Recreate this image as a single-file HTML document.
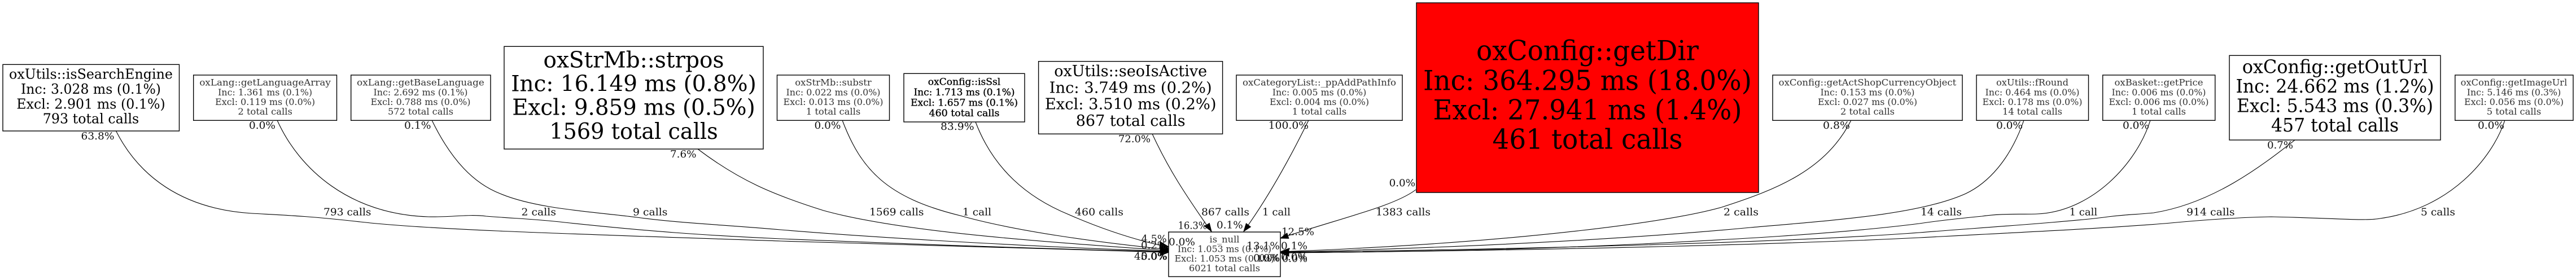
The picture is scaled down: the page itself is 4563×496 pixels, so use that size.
<!DOCTYPE html>
<html><head><meta charset="utf-8"><style>
html,body{margin:0;padding:0;background:#fff}
svg{display:block}
text{font-family:"DejaVu Serif","Liberation Serif",serif;fill:#000;text-anchor:middle}
.l{text-anchor:start;font-size:18px;fill:#111}
.n{fill:#fff;stroke:#000;stroke-width:1.4}
.e{fill:none;stroke:#000;stroke-width:1.1}
.s text{font-size:16px;fill:#333}
.b text{stroke:#000;stroke-width:.35}
</style></head><body>
<svg width="4563" height="496" viewBox="0 0 4563 496" xmlns="http://www.w3.org/2000/svg">
<rect width="4563" height="496" fill="#fff"/>
<!-- edges -->
<path class="e" d="M205.5 232C245 310 320 370 446 378C500 381 540 382 638 393C760 407 1000 414 1383 427C1700 436 1900 443 2070 447"/>
<path class="e" d="M491 213C530 300 620 380 759 384C800 385 830 379 861 383C910 387 950 388 1000 394C1150 410 1250 417 1383 423C1700 436 1900 442 2070 446"/>
<path class="e" d="M765 213C800 285 840 325 886 343C950 370 1050 375 1128 385C1200 395 1280 398 1383 407C1600 425 1900 440 2070 445"/>
<path class="e" d="M1236 264C1310 320 1370 345 1459 373C1600 412 1850 428 2070 444"/>
<path class="e" d="M1492 213C1525 300 1570 350 1701 382C1800 410 1950 430 2070 442"/>
<path class="e" d="M1728 216C1760 300 1820 350 1893 380C1950 405 2010 425 2070 438"/>
<path class="e" d="M2041 237C2070 300 2100 345 2146 411"/>
<path class="e" d="M2318 213C2290 270 2250 345 2203 410"/>
<path class="e" d="M2508 336C2470 365 2380 385 2268 422"/>
<path class="e" d="M3279 213C3235 300 3150 335 3050 367C2950 395 2700 425 2400 440C2350 443 2310 444 2268 446"/>
<path class="e" d="M3585 213C3560 285 3520 325 3482 343C3400 380 3250 390 3101 403C2900 422 2650 435 2400 443C2350 445 2310 446 2268 446"/>
<path class="e" d="M3809 213C3785 290 3705 375 3608 379C3570 380 3545 378 3511 383C3480 386 3440 390 3400 396C3250 415 3050 425 2910 432C2700 442 2500 446 2268 448"/>
<path class="e" d="M4065 248C4005 295 3920 360 3815 377C3785 380 3765 380 3734 384C3680 392 3500 404 3400 412C3200 427 2800 440 2268 447"/>
<path class="e" d="M4437 213C4415 280 4340 370 4216 387C4190 392 4130 386 4023 384C3970 385 3920 388 3845 395C3750 403 3650 408 3400 421C3200 431 2800 443 2268 448"/>
<!-- arrowheads -->
<g fill="#000" stroke="#000" stroke-width="1">
<polygon points="2146,410 2142.3,395.4 2133.7,400.7"/>
<polygon points="2203,410 2215.4,401.8 2207.4,395.8"/>
<polygon points="2268,422 2282.8,422.4 2279.8,413"/>
<polygon points="2070,437 2055,428 2054,440"/>
<polygon points="2070,440 2055,431 2055,444"/>
<polygon points="2070,442 2055,434 2055,447"/>
<polygon points="2070,444 2055,437 2055,449"/>
<polygon points="2070,446 2055,439 2055,451"/>
<polygon points="2070,447 2055,441 2055,453"/>
<polygon points="2268,446 2283,440 2283,452"/>
<polygon points="2268,447 2283,441 2283,453"/>
<polygon points="2268,448 2283,442 2283,454"/>
</g>
<!-- is_null drawn before its overlapping labels -->
<rect class="n" x="2070" y="411" width="198" height="79"/>
<g class="s" font-size="16">
<text x="2169" y="429.3" textLength="53" lengthAdjust="spacingAndGlyphs">is_null</text>
<text x="2169" y="446.7" textLength="166" lengthAdjust="spacingAndGlyphs">Inc: 1.053 ms (0.1%)</text>
<text x="2169" y="463.3" textLength="177" lengthAdjust="spacingAndGlyphs">Excl: 1.053 ms (0.1%)</text>
<text x="2169" y="480.7" textLength="126" lengthAdjust="spacingAndGlyphs">6021 total calls</text>
</g>
<!-- nodes -->
<rect class="n" x="5" y="114.3" width="312.5" height="117.7"/>
<g font-size="24.5">
<text x="161" y="139.5" textLength="290" lengthAdjust="spacingAndGlyphs">oxUtils::isSearchEngine</text>
<text x="161" y="166" textLength="248" lengthAdjust="spacingAndGlyphs">Inc: 3.028 ms (0.1%)</text>
<text x="161" y="192.5" textLength="263.5" lengthAdjust="spacingAndGlyphs">Excl: 2.901 ms (0.1%)</text>
<text x="161" y="218.5" textLength="170.5" lengthAdjust="spacingAndGlyphs">793 total calls</text>
</g>
<rect class="n" x="342.7" y="133" width="253.8" height="80.3"/>
<g class="s">
<text x="469.6" y="151.7" textLength="232.5" lengthAdjust="spacingAndGlyphs">oxLang::getLanguageArray</text>
<text x="469.6" y="169" textLength="167" lengthAdjust="spacingAndGlyphs">Inc: 1.361 ms (0.1%)</text>
<text x="469.6" y="186" textLength="177" lengthAdjust="spacingAndGlyphs">Excl: 0.119 ms (0.0%)</text>
<text x="469.6" y="203" textLength="96.5" lengthAdjust="spacingAndGlyphs">2 total calls</text>
</g>
<rect class="n" x="621.7" y="133" width="247.3" height="80.3"/>
<g class="s">
<text x="745" y="151.7" textLength="225.6" lengthAdjust="spacingAndGlyphs">oxLang::getBaseLanguage</text>
<text x="745" y="169" textLength="167" lengthAdjust="spacingAndGlyphs">Inc: 2.692 ms (0.1%)</text>
<text x="745" y="186" textLength="177" lengthAdjust="spacingAndGlyphs">Excl: 0.788 ms (0.0%)</text>
<text x="745" y="203" textLength="116" lengthAdjust="spacingAndGlyphs">572 total calls</text>
</g>
<rect class="n" x="893" y="82.3" width="459" height="181.7"/>
<g font-size="39.5">
<text x="1122.5" y="119.5" textLength="320" lengthAdjust="spacingAndGlyphs">oxStrMb::strpos</text>
<text x="1122.5" y="161.7" textLength="434.6" lengthAdjust="spacingAndGlyphs">Inc: 16.149 ms (0.8%)</text>
<text x="1122.5" y="203.3" textLength="430.5" lengthAdjust="spacingAndGlyphs">Excl: 9.859 ms (0.5%)</text>
<text x="1122.5" y="246" textLength="298.5" lengthAdjust="spacingAndGlyphs">1569 total calls</text>
</g>
<rect class="n" x="1376.5" y="133" width="199" height="80.3"/>
<g class="s">
<text x="1476" y="151.7" textLength="135.5" lengthAdjust="spacingAndGlyphs">oxStrMb::substr</text>
<text x="1476" y="169" textLength="167" lengthAdjust="spacingAndGlyphs">Inc: 0.022 ms (0.0%)</text>
<text x="1476" y="186" textLength="177" lengthAdjust="spacingAndGlyphs">Excl: 0.013 ms (0.0%)</text>
<text x="1476" y="203" textLength="96.5" lengthAdjust="spacingAndGlyphs">1 total calls</text>
</g>
<rect class="n" x="1601" y="130.3" width="214" height="85.7"/>
<g class="b" font-size="17.2">
<text x="1708" y="150.7" textLength="128.6" lengthAdjust="spacingAndGlyphs">oxConfig::isSsl</text>
<text x="1708" y="169" textLength="179" lengthAdjust="spacingAndGlyphs">Inc: 1.713 ms (0.1%)</text>
<text x="1708" y="187.7" textLength="190" lengthAdjust="spacingAndGlyphs">Excl: 1.657 ms (0.1%)</text>
<text x="1708" y="206" textLength="125" lengthAdjust="spacingAndGlyphs">460 total calls</text>
</g>
<rect class="n" x="1839.6" y="108.7" width="326" height="128.6"/>
<g font-size="27">
<text x="2002.7" y="135" textLength="271" lengthAdjust="spacingAndGlyphs">oxUtils::seoIsActive</text>
<text x="2002.7" y="164.3" textLength="288" lengthAdjust="spacingAndGlyphs">Inc: 3.749 ms (0.2%)</text>
<text x="2002.7" y="193.6" textLength="303.7" lengthAdjust="spacingAndGlyphs">Excl: 3.510 ms (0.2%)</text>
<text x="2002.7" y="223" textLength="194" lengthAdjust="spacingAndGlyphs">867 total calls</text>
</g>
<rect class="n" x="2190" y="133" width="294" height="80.3"/>
<g class="s">
<text x="2337" y="151.7" textLength="272" lengthAdjust="spacingAndGlyphs">oxCategoryList::_ppAddPathInfo</text>
<text x="2337" y="169" textLength="166.5" lengthAdjust="spacingAndGlyphs">Inc: 0.005 ms (0.0%)</text>
<text x="2337" y="186" textLength="176" lengthAdjust="spacingAndGlyphs">Excl: 0.004 ms (0.0%)</text>
<text x="2337" y="203" textLength="96.5" lengthAdjust="spacingAndGlyphs">1 total calls</text>
</g>
<rect x="2509" y="5" width="606" height="336" fill="#f00" stroke="#000" stroke-width="1.4"/>
<g font-size="49">
<text x="2812" y="106.7" textLength="394" lengthAdjust="spacingAndGlyphs">oxConfig::getDir</text>
<text x="2812" y="159.3" textLength="582" lengthAdjust="spacingAndGlyphs">Inc: 364.295 ms (18.0%)</text>
<text x="2812" y="211.3" textLength="547" lengthAdjust="spacingAndGlyphs">Excl: 27.941 ms (1.4%)</text>
<text x="2812" y="263.3" textLength="337" lengthAdjust="spacingAndGlyphs">461 total calls</text>
</g>
<rect class="n" x="3140" y="133" width="336" height="80.3"/>
<g class="s">
<text x="3308" y="151.7" textLength="314.6" lengthAdjust="spacingAndGlyphs">oxConfig::getActShopCurrencyObject</text>
<text x="3308" y="169" textLength="167" lengthAdjust="spacingAndGlyphs">Inc: 0.153 ms (0.0%)</text>
<text x="3308" y="186" textLength="176" lengthAdjust="spacingAndGlyphs">Excl: 0.027 ms (0.0%)</text>
<text x="3308" y="203" textLength="96" lengthAdjust="spacingAndGlyphs">2 total calls</text>
</g>
<rect class="n" x="3501" y="133" width="198.5" height="80.3"/>
<g class="s">
<text x="3600" y="151.7" textLength="128" lengthAdjust="spacingAndGlyphs">oxUtils::fRound</text>
<text x="3600" y="169" textLength="167" lengthAdjust="spacingAndGlyphs">Inc: 0.464 ms (0.0%)</text>
<text x="3600" y="186" textLength="177" lengthAdjust="spacingAndGlyphs">Excl: 0.178 ms (0.0%)</text>
<text x="3600" y="203" textLength="106" lengthAdjust="spacingAndGlyphs">14 total calls</text>
</g>
<rect class="n" x="3724.7" y="133" width="199" height="80.3"/>
<g class="s">
<text x="3824" y="151.7" textLength="157" lengthAdjust="spacingAndGlyphs">oxBasket::getPrice</text>
<text x="3824" y="169" textLength="167" lengthAdjust="spacingAndGlyphs">Inc: 0.006 ms (0.0%)</text>
<text x="3824" y="186" textLength="177" lengthAdjust="spacingAndGlyphs">Excl: 0.006 ms (0.0%)</text>
<text x="3824" y="203" textLength="96" lengthAdjust="spacingAndGlyphs">1 total calls</text>
</g>
<rect class="n" x="3949" y="98.3" width="374" height="149.7"/>
<g font-size="32.5">
<text x="4136" y="129.5" textLength="328.6" lengthAdjust="spacingAndGlyphs">oxConfig::getOutUrl</text>
<text x="4136" y="164" textLength="351" lengthAdjust="spacingAndGlyphs">Inc: 24.662 ms (1.2%)</text>
<text x="4136" y="198.7" textLength="348" lengthAdjust="spacingAndGlyphs">Excl: 5.543 ms (0.3%)</text>
<text x="4136" y="233" textLength="226" lengthAdjust="spacingAndGlyphs">457 total calls</text>
</g>
<rect class="n" x="4348.8" y="133" width="209.2" height="80.3"/>
<g class="s">
<text x="4453" y="151.7" textLength="188.6" lengthAdjust="spacingAndGlyphs">oxConfig::getImageUrl</text>
<text x="4453" y="169" textLength="166.5" lengthAdjust="spacingAndGlyphs">Inc: 5.146 ms (0.3%)</text>
<text x="4453" y="186" textLength="176" lengthAdjust="spacingAndGlyphs">Excl: 0.056 ms (0.0%)</text>
<text x="4453" y="203" textLength="96.5" lengthAdjust="spacingAndGlyphs">5 total calls</text>
</g>
<!-- tail labels -->
<g>
<text class="l" x="143.5" y="247" textLength="59" lengthAdjust="spacingAndGlyphs">63.8%</text>
<text class="l" x="441" y="228" textLength="47" lengthAdjust="spacingAndGlyphs">0.0%</text>
<text class="l" x="716" y="228" textLength="47.5" lengthAdjust="spacingAndGlyphs">0.1%</text>
<text class="l" x="1187" y="279" textLength="46.5" lengthAdjust="spacingAndGlyphs">7.6%</text>
<text class="l" x="1442.5" y="228" textLength="47" lengthAdjust="spacingAndGlyphs">0.0%</text>
<text class="l" x="1666" y="230" textLength="59.5" lengthAdjust="spacingAndGlyphs">83.9%</text>
<text class="l" x="1981" y="252" textLength="57" lengthAdjust="spacingAndGlyphs">72.0%</text>
<text class="l" x="2246.6" y="228" textLength="71.5" lengthAdjust="spacingAndGlyphs">100.0%</text>
<text class="l" x="2460.6" y="330" textLength="46.5" lengthAdjust="spacingAndGlyphs">0.0%</text>
<text class="l" x="3229" y="228" textLength="48" lengthAdjust="spacingAndGlyphs">0.8%</text>
<text class="l" x="3536" y="228" textLength="47" lengthAdjust="spacingAndGlyphs">0.0%</text>
<text class="l" x="3760" y="228" textLength="47" lengthAdjust="spacingAndGlyphs">0.0%</text>
<text class="l" x="4016" y="263" textLength="46" lengthAdjust="spacingAndGlyphs">0.7%</text>
<text class="l" x="4389" y="228" textLength="47" lengthAdjust="spacingAndGlyphs">0.0%</text>
<!-- call labels -->
<text class="l" x="573" y="381.5" textLength="84.5" lengthAdjust="spacingAndGlyphs">793 calls</text>
<text class="l" x="923.5" y="381.5" textLength="61.5" lengthAdjust="spacingAndGlyphs">2 calls</text>
<text class="l" x="1121" y="381.5" textLength="61.4" lengthAdjust="spacingAndGlyphs">9 calls</text>
<text class="l" x="1540" y="381.5" textLength="96.5" lengthAdjust="spacingAndGlyphs">1569 calls</text>
<text class="l" x="1705" y="381.5" textLength="51" lengthAdjust="spacingAndGlyphs">1 call</text>
<text class="l" x="1904" y="381.5" textLength="86" lengthAdjust="spacingAndGlyphs">460 calls</text>
<text class="l" x="2128" y="381.5" textLength="85" lengthAdjust="spacingAndGlyphs">867 calls</text>
<text class="l" x="2236" y="381.5" textLength="50" lengthAdjust="spacingAndGlyphs">1 call</text>
<text class="l" x="2437" y="381.5" textLength="97" lengthAdjust="spacingAndGlyphs">1383 calls</text>
<text class="l" x="3053" y="381.5" textLength="62" lengthAdjust="spacingAndGlyphs">2 calls</text>
<text class="l" x="3402" y="381.5" textLength="73" lengthAdjust="spacingAndGlyphs">14 calls</text>
<text class="l" x="3665.6" y="381.5" textLength="49.5" lengthAdjust="spacingAndGlyphs">1 call</text>
<text class="l" x="3873" y="381.5" textLength="85.6" lengthAdjust="spacingAndGlyphs">914 calls</text>
<text class="l" x="4288" y="381.5" textLength="61" lengthAdjust="spacingAndGlyphs">5 calls</text>
<!-- head labels -->
<text class="l" x="2086.7" y="405.5" textLength="51.5" lengthAdjust="spacingAndGlyphs">16.3%</text>
<text class="l" x="2155" y="404.5" textLength="46.7" lengthAdjust="spacingAndGlyphs">0.1%</text>
<text class="l" x="2270" y="416.5" textLength="58" lengthAdjust="spacingAndGlyphs">12.5%</text>
<text class="l" x="2021.7" y="429" textLength="45" lengthAdjust="spacingAndGlyphs">4.5%</text>
<text class="l" x="2070" y="434.5" textLength="47" lengthAdjust="spacingAndGlyphs">0.0%</text>
<text class="l" x="2021" y="440.5" textLength="46" lengthAdjust="spacingAndGlyphs">0.2%</text>
<text class="l" x="2009" y="460" textLength="58" lengthAdjust="spacingAndGlyphs">45.0%</text>
<text class="l" x="2021" y="460" textLength="47" lengthAdjust="spacingAndGlyphs">0.0%</text>
<text class="l" x="2208" y="441.5" textLength="59" lengthAdjust="spacingAndGlyphs">13.1%</text>
<text class="l" x="2269" y="441.5" textLength="47" lengthAdjust="spacingAndGlyphs">0.1%</text>
<text class="l" x="2220" y="463" textLength="47" lengthAdjust="spacingAndGlyphs">0.0%</text>
<text class="l" x="2231" y="463" textLength="36" lengthAdjust="spacingAndGlyphs">0.0%</text>
<text class="l" x="2269" y="461" textLength="47" lengthAdjust="spacingAndGlyphs">0.0%</text>
<text class="l" x="2271" y="464" textLength="45" lengthAdjust="spacingAndGlyphs">0.0%</text>
</g>
</svg>
</body></html>
